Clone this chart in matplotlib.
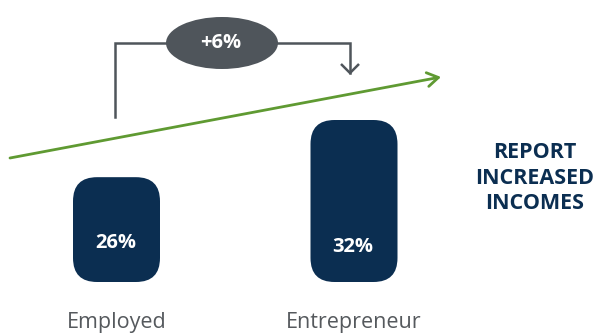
import matplotlib
matplotlib.use("Agg")
import matplotlib.pyplot as plt
from matplotlib.patches import FancyBboxPatch, Ellipse

# --- data ---
categories = ["Employed", "Entrepreneur"]
values = [26, 32]
value_labels = ["26%", "32%"]
difference_label = "+6%"
side_title = ["REPORT", "INCREASED", "INCOMES"]

BAR_COLOR = "#0b2e51"
GREY = "#4f555b"
GREEN = "#5f9a32"
TEXT_GREY = "#55595d"

W, H, DPI = 603, 335, 100
fig = plt.figure(figsize=(W / DPI, H / DPI), dpi=DPI)
ax = fig.add_axes([0, 0, 1, 1])
ax.set_axis_off()

# value axis: bars rise from a baseline of 15
baseline = 15
px_per_x = 237.5            # pixels per category step
px_per_y = 162 / (32 - baseline)
x0_px = 116.5               # centre of first category in pixels
base_px = H - 282           # baseline height from bottom in pixels
ax.set_xlim(-x0_px / px_per_x, (W - x0_px) / px_per_x)
ax.set_ylim(baseline - base_px / px_per_y, baseline + (H - base_px) / px_per_y)

bar_w = 87 / px_per_x
radius_px = 24
aspect = px_per_x / px_per_y
label_offsets = [4.1, 3.7]
for i, (v, lab) in enumerate(zip(values, value_labels)):
    patch = FancyBboxPatch(
        (i - bar_w / 2, baseline), bar_w, v - baseline,
        boxstyle=f"round,pad=0,rounding_size={radius_px / px_per_x}",
        mutation_aspect=aspect, facecolor=BAR_COLOR, edgecolor="none")
    ax.add_patch(patch)
    ax.text(i - 0.005, baseline + label_offsets[i], lab, ha="center",
            va="center", color="white", fontsize=14.5, fontweight="bold",
            family="Open Sans")
    ax.text(i, baseline - 4.3, categories[i], ha="center", va="center",
            color=TEXT_GREY, fontsize=15.5, family="Open Sans")


def px(x, y):
    """pixel position (from top-left) to figure fraction"""
    return x / W, 1 - y / H


tf = fig.transFigure

# bracket from first to second bar
bx0, bx1, by_top, by0, by1 = 114.5, 350, 43, 117, 73
ax.plot(*zip(px(bx0, by0), px(bx0, by_top), px(bx1, by_top), px(bx1, by1)),
        transform=tf, color=GREY, lw=1.8, solid_joinstyle="miter")
ax.plot(*zip(px(341, 64), px(350, 73), px(359, 64)), transform=tf,
        color=GREY, lw=1.8, solid_capstyle="butt")
ell = Ellipse(px(222, 43), 112 / W, 52 / H, transform=tf,
              facecolor=GREY, edgecolor="none", zorder=3)
ax.add_patch(ell)
ax.text(*px(221, 43), difference_label, transform=tf, ha="center",
        va="center", color="white", fontsize=14.5, fontweight="bold",
        family="Open Sans", zorder=4)

# trend arrow
ax.annotate("", xy=px(441, 77), xytext=px(10, 158), xycoords=tf,
            textcoords=tf,
            arrowprops=dict(arrowstyle="->,head_length=0.8,head_width=0.5",
                            color=GREEN, lw=2.0, shrinkA=0, shrinkB=0))

# side caption, one line at a time on fixed baselines
for line, base_y in zip(side_title, [158, 183.5, 209]):
    ax.text(*px(535, base_y), line, transform=tf, ha="center",
            va="baseline", color=BAR_COLOR, fontsize=15.5,
            fontweight="bold", family="Open Sans")

fig.savefig("out.png", dpi=DPI)
